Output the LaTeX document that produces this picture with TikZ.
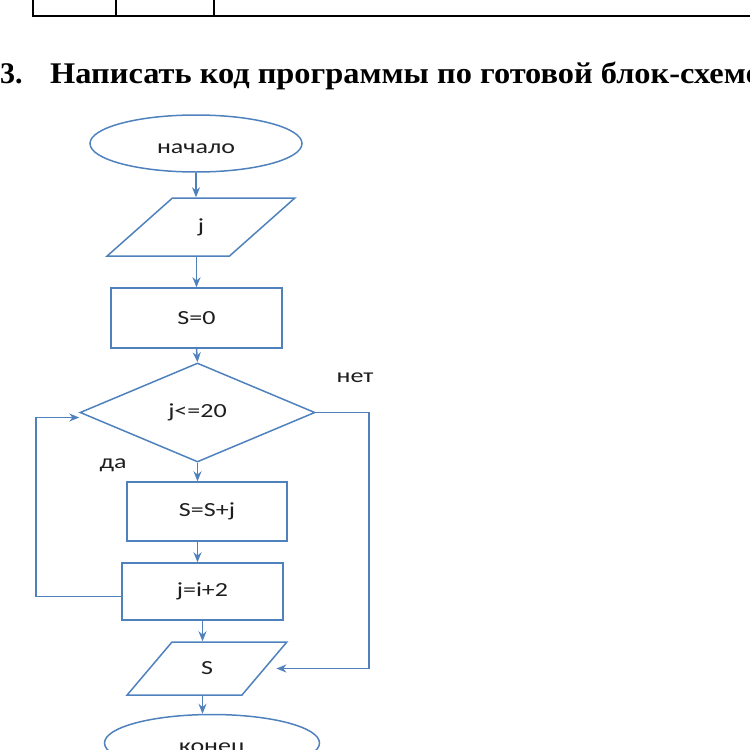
\documentclass[tikz,border=0pt]{standalone}
\usepackage{fontspec}
\usepackage{graphicx}
\usepackage{tikz}
\usetikzlibrary{shapes.geometric, arrows.meta, positioning, calc}
\setmainfont{Liberation Serif}
\newfontfamily\flowfont{Carlito}
\definecolor{lineblue}{RGB}{79,129,189}
\definecolor{textdark}{RGB}{30,30,30}
\newcommand{\flowtxt}[1]{{\flowfont\fontsize{20}{24}\selectfont\scalebox{1.3}[1]{#1}}}

\begin{document}
\begin{tikzpicture}[
    x=1pt, y=-1pt,
    term/.style={draw=lineblue, line width=1.5pt, ellipse, minimum width=212pt, minimum height=57pt, inner sep=0pt, text height=19pt, text depth=0pt, text=textdark},
    io/.style={draw=lineblue, line width=1.5pt, trapezium, trapezium stretches=true, inner sep=0pt, text=textdark},
    proc/.style={draw=lineblue, line width=1.5pt, rectangle, inner sep=0pt, text=textdark},
    cond/.style={draw=lineblue, line width=1.5pt, diamond, minimum width=235pt, minimum height=99pt, inner sep=0pt, text=textdark},
    lbl/.style={inner sep=0pt, text=textdark},
    arr/.style={-{Stealth[length=10pt,width=8pt]}, draw=lineblue, line width=1.5pt}
]
    \useasboundingbox (0,0) rectangle (750,750);

    % table edge at the top
    \draw[line width=1.8pt] (33,0) -- (33,16) -- (760,16);
    \draw[line width=1.8pt] (116,0) -- (116,16);
    \draw[line width=1.8pt] (214,0) -- (214,16);

    % task heading
    \node[anchor=base west, inner sep=0pt, font=\fontsize{30}{36}\selectfont\bfseries] (num) at (0,83) {3.};
    \node[anchor=base west, inner sep=0pt, font=\fontsize{30}{36}\selectfont\bfseries] (task) at (50,83) {\scalebox{1.08}[1]{Написать код программы по готовой блок-схеме}};

    % flowchart
    \node[term] (start) at (196,143.5) {\flowtxt{начало}};
    \node[io, minimum width=188pt, minimum height=58pt, trapezium left angle=67.5, trapezium right angle=112.5] (inj) at (201,227) {\flowtxt{j}};
    \node[proc, minimum width=171pt, minimum height=60pt] (s0) at (196.5,318) {\flowtxt{S=0}};
    \node[cond] (dia) at (197.5,412.5) {\flowtxt{j<=20}};
    \node[proc, minimum width=160pt, minimum height=59pt] (sum) at (207,511.5) {\flowtxt{S=S+j}};
    \node[proc, minimum width=161pt, minimum height=57pt] (inc) at (202.5,591.5) {\flowtxt{j=i+2}};
    \node[io, minimum width=160pt, minimum height=53pt, trapezium left angle=59.7, trapezium right angle=120.3] (outS) at (207,668.5) {\flowtxt{S}};
    \node[term, minimum width=215pt] (stop) at (212,743) {\flowtxt{конец}};

    \node[lbl] (no) at (355,378) {\flowtxt{нет}};
    \node[lbl] (yes) at (113,465) {\flowtxt{да}};

    \coordinate (loopL) at (36,500);
    \coordinate (noR) at (369,540);

    % connections
    \draw[arr] (start.south) -- (start.south |- inj.north);
    \draw[arr] (s0.north |- inj.south) -- (s0.north);
    \draw[arr] (s0.south) -- (dia.north);
    \draw[arr] (dia.south) -- (dia.south |- sum.north);
    \draw[arr] (dia.south |- sum.south) -- (dia.south |- inc.north);
    \draw[arr] (inc.south) -- (inc.south |- outS.north);
    \draw[arr] (inc.south |- outS.south) -- (inc.south |- stop.north);

    \draw[arr] ([yshift=-5pt]inc.west) -| (loopL) |- ([yshift=-5pt]dia.west);
    \draw[arr] (dia.east) -| (noR) |- ([xshift=11pt]outS.east);
\end{tikzpicture}
\end{document}
